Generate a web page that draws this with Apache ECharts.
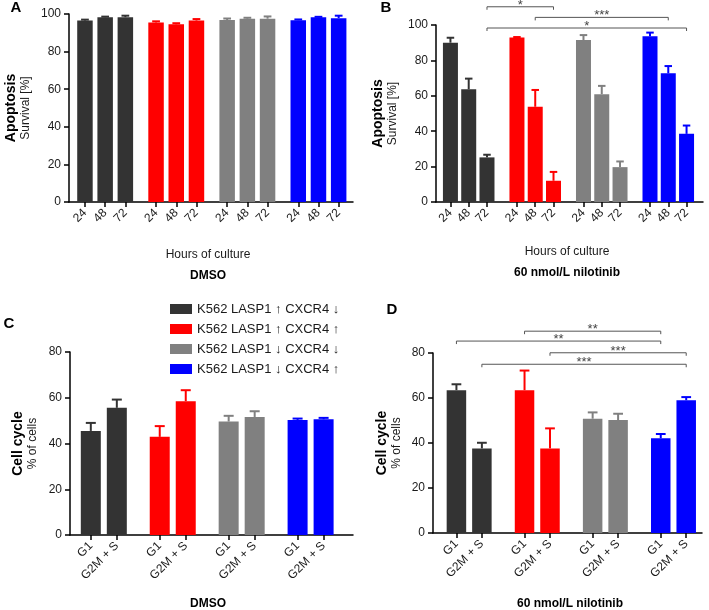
<!DOCTYPE html>
<html>
<head>
<meta charset="utf-8">
<script src="https://cdn.jsdelivr.net/npm/echarts@6/dist/echarts.min.js"></script>
<style>html,body{margin:0;padding:0;background:#fff}#c{width:709px;height:610px}</style>
</head>
<body>
<div id="c"></div>
<script>
// ---------- data ----------
const cellLines = ['K562 LASP1 ↑ CXCR4 ↓', 'K562 LASP1 ↑ CXCR4 ↑', 'K562 LASP1 ↓ CXCR4 ↓', 'K562 LASP1 ↓ CXCR4 ↑'];
const hours = ['24', '48', '72'];
const phases = ['G1', 'G2M + S'];
const yTicksApoptosis = [0, 20, 40, 60, 80, 100];
const yTicksCellCycle = [0, 20, 40, 60, 80];

// Apoptosis – survival [%] (mean, SD) per cell line x hours
const apoDmsoMean = [[96.5, 98.3, 98.3], [95.5, 94.5, 96.5], [96.8, 97.5, 97.5], [96.7, 98.3, 97.8]];
const apoDmsoSd   = [[0.5, 0.3, 0.8], [0.6, 0.6, 0.8], [0.8, 0.5, 1.2], [0.4, 0.2, 1.3]];
const apoNiloMean = [[90.0, 63.7, 25.2], [92.9, 53.8, 12.0], [91.5, 60.9, 19.7], [93.6, 72.7, 38.5]];
const apoNiloSd   = [[2.8, 6.0, 1.5], [0.3, 9.5, 5.0], [2.8, 4.7, 3.2], [2.1, 4.1, 4.7]];

// Cell cycle – % of cells (mean, SD) per cell line x phase
const ccDmsoMean = [[45.5, 55.6], [42.9, 58.5], [49.6, 51.6], [50.3, 50.6]];
const ccDmsoSd   = [[3.5, 3.6], [4.7, 4.8], [2.5, 2.5], [0.6, 0.6]];
const ccNiloMean = [[63.5, 37.6], [63.5, 37.6], [50.8, 50.2], [42.1, 59.0]];
const ccNiloSd   = [[2.6, 2.5], [8.7, 8.9], [2.8, 2.8], [1.9, 1.4]];

// significance brackets: [fromLine, fromBar, toLine, toBar, level, label]
const sigApoNilo = [[0, 2, 1, 2, 110.3, '*'], [1, 1, 3, 1, 104.3, '***'], [0, 2, 3, 2, 98.3, '*']];
const sigCcNilo  = [[1, 0, 3, 0, 89.7, '**'], [0, 0, 3, 0, 85.3, '**'], [1, 1, 3, 1, 80.1, '***'], [0, 1, 3, 1, 75.0, '***']];

// ---------- styling / layout ----------
const colors = ['#333333', '#ff0000', '#808080', '#0000ff'];
const FONT = '"Liberation Sans", Arial, sans-serif';
const TXT = '#1a1a1a';

const panels = [
  {grid: {left: 69, top: 14, width: 284, height: 188}, gp: 3.52, xmin: -0.79, xmax: 13.27, cats: hours, mean: apoDmsoMean, sd: apoDmsoSd, barW: 15.5, yTicks: yTicksApoptosis, n1: 'Apoptosis', n2: 'Survival [%]', nameGap: 36, sig: null},
  {grid: {left: 436, top: 25, width: 267, height: 177}, gp: 3.64, xmin: -0.79, xmax: 13.82, cats: hours, mean: apoNiloMean, sd: apoNiloSd, barW: 15, yTicks: yTicksApoptosis, n1: 'Apoptosis', n2: 'Survival [%]', nameGap: 36, sig: sigApoNilo},
  {grid: {left: 70, top: 352, width: 283, height: 183}, gp: 2.65, xmin: -0.8, xmax: 10.08, cats: phases, mean: ccDmsoMean, sd: ccDmsoSd, barW: 20, yTicks: yTicksCellCycle, n1: 'Cell cycle', n2: '% of cells', nameGap: 30, sig: null},
  {grid: {left: 433, top: 353, width: 269, height: 180}, gp: 2.675, xmin: -0.92, xmax: 9.645, cats: phases, mean: ccNiloMean, sd: ccNiloSd, barW: 19.5, yTicks: yTicksCellCycle, n1: 'Cell cycle', n2: '% of cells', nameGap: 29, sig: sigCcNilo}
];

const grids = [], xAxes = [], yAxes = [], series = [];

panels.forEach((p, pi) => {
  grids.push(p.grid);
  const pos = [], lab = [];
  p.mean.forEach((row, g) => row.forEach((v, i) => { pos.push(g * p.gp + i); lab.push(p.cats[i]); }));
  const fmt = (val) => {
    let best = 0, bd = Infinity;
    pos.forEach((q, k) => { const d = Math.abs(q - val); if (d < bd) { bd = d; best = k; } });
    return lab[best];
  };
  xAxes.push({
    type: 'value', gridIndex: pi, min: p.xmin, max: p.xmax,
    splitLine: {show: false},
    axisLine: {show: true, onZero: false, lineStyle: {color: '#000', width: 1.5}},
    axisTick: {show: true, customValues: pos, length: 5, lineStyle: {color: '#000', width: 1.5}},
    axisLabel: {customValues: pos, formatter: fmt, rotate: 45, margin: 9, fontSize: 12, color: TXT, fontFamily: FONT}
  });
  const ymax = p.yTicks[p.yTicks.length - 1];
  yAxes.push({
    type: 'value', gridIndex: pi, min: 0, max: ymax, interval: p.yTicks[1] - p.yTicks[0],
    splitLine: {show: false},
    axisLine: {show: true, onZero: false, lineStyle: {color: '#000', width: 1.5}},
    axisTick: {show: true, length: 5, lineStyle: {color: '#000', width: 1.5}},
    axisLabel: {margin: 8, fontSize: 12, color: TXT, fontFamily: FONT},
    name: '{b|' + p.n1 + '}\n{n|' + p.n2 + '}',
    nameLocation: 'middle', nameGap: p.nameGap,
    nameTextStyle: {fontFamily: FONT, rich: {
      b: {fontSize: 14, fontWeight: 'bold', color: '#000', fontFamily: FONT, lineHeight: 15},
      n: {fontSize: 12, color: TXT, fontFamily: FONT, lineHeight: 14}
    }}
  });
  // bars
  p.mean.forEach((row, g) => {
    series.push({
      type: 'bar', name: cellLines[g], xAxisIndex: pi, yAxisIndex: pi,
      barWidth: p.barW, barGap: '-100%',
      itemStyle: {color: colors[g]},
      data: row.map((v, i) => [g * p.gp + i, v]),
      z: 2
    });
  });
  // error bars (mean + SD)
  const errData = [];
  p.mean.forEach((row, g) => row.forEach((v, i) => errData.push([g * p.gp + i, v, p.sd[g][i], g])));
  const capW = p.barW * 0.5;
  series.push({
    type: 'custom', xAxisIndex: pi, yAxisIndex: pi, z: 3, silent: true,
    encode: {x: 0, y: 1},
    data: errData,
    renderItem: (params, api) => {
      const x = api.value(0), m = api.value(1), s = api.value(2), g = api.value(3);
      const p0 = api.coord([x, m]), p1 = api.coord([x, m + s]);
      const st = {stroke: colors[g], lineWidth: 2};
      return {type: 'group', children: [
        {type: 'line', shape: {x1: p0[0], y1: p0[1], x2: p1[0], y2: p1[1]}, style: st},
        {type: 'line', shape: {x1: p1[0] - capW / 2, y1: p1[1], x2: p1[0] + capW / 2, y2: p1[1]}, style: st}
      ]};
    }
  });
  // significance brackets
  if (p.sig) {
    const sigData = p.sig.map((s, k) => [s[0] * p.gp + s[1], s[2] * p.gp + s[3], s[4], k]);
    const sigLabels = p.sig.map(s => s[5]);
    series.push({
      type: 'custom', xAxisIndex: pi, yAxisIndex: pi, z: 4, silent: true, clip: false,
      encode: {x: [0, 1], y: 2},
      data: sigData,
      renderItem: (params, api) => {
        const a = api.coord([api.value(0), api.value(2)]);
        const b = api.coord([api.value(1), api.value(2)]);
        return {type: 'group', children: [
          {type: 'polyline', shape: {points: [[a[0], a[1] + 3], [a[0], a[1]], [b[0], b[1]], [b[0], b[1] + 3]]}, style: {stroke: '#555', lineWidth: 1, fill: null}},
          {type: 'text', style: {text: sigLabels[api.value(3)], x: (a[0] + b[0]) / 2, y: a[1] + 5, align: 'center', verticalAlign: 'bottom', fontSize: 13, fill: '#444', fontFamily: FONT}}
        ]};
      }
    });
  }
});

const txt = (text, x, y, size, bold) => ({type: 'text', x: x, y: y, style: {text: text, fontSize: size, fontWeight: bold ? 'bold' : 'normal', fill: bold ? '#000' : TXT, align: 'center', verticalAlign: 'middle', fontFamily: FONT}});

const option = {
  animation: false,
  backgroundColor: '#fff',
  textStyle: {fontFamily: FONT},
  grid: grids,
  xAxis: xAxes,
  yAxis: yAxes,
  legend: {
    data: cellLines, orient: 'vertical', left: 170, top: 302, padding: 0,
    icon: 'rect', itemWidth: 22, itemHeight: 10, itemGap: 6,
    textStyle: {fontSize: 13, color: TXT, fontFamily: FONT, lineHeight: 14}
  },
  graphic: [
    txt('A', 16, 8, 15, true), txt('B', 386, 8, 15, true), txt('C', 9, 324, 15, true), txt('D', 392, 310, 15, true),
    txt('Hours of culture', 208, 255, 12, false), txt('DMSO', 208, 276, 12, true),
    txt('Hours of culture', 567, 252, 12, false), txt('60 nmol/L nilotinib', 567, 273, 12, true),
    txt('DMSO', 208, 604, 12, true), txt('60 nmol/L nilotinib', 570, 604, 12, true)
  ],
  series: series
};

const chart = echarts.init(document.getElementById('c'), null, {renderer: 'canvas'});
chart.setOption(option);
</script>
</body>
</html>
